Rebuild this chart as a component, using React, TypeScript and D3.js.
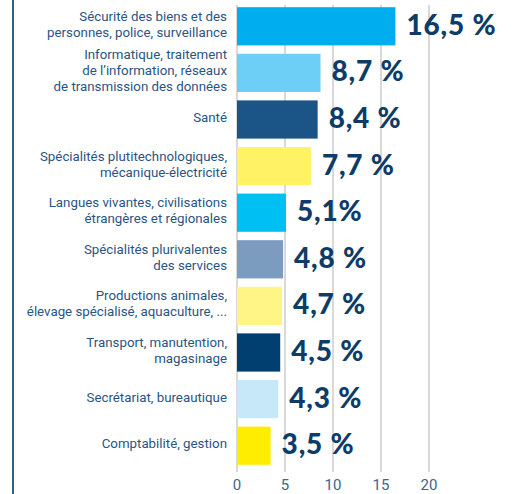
import React from "react";
import * as d3 from "d3";

const categories: string[] = [
  "Sécurité des biens et des\npersonnes, police, surveillance",
  "Informatique, traitement\nde l’information, réseaux\nde transmission des données",
  "Santé",
  "Spécialités plutitechnologiques,\nmécanique-électricité",
  "Langues vivantes, civilisations\nétrangères et régionales",
  "Spécialités plurivalentes\ndes services",
  "Productions animales,\nélevage spécialisé, aquaculture, ...",
  "Transport, manutention,\nmagasinage",
  "Secrétariat, bureautique",
  "Comptabilité, gestion",
];
const values: number[] = [16.5, 8.7, 8.4, 7.7, 5.1, 4.8, 4.7, 4.5, 4.3, 3.5];
const valueLabels: string[] = ["16,5 %", "8,7 %", "8,4 %", "7,7 %", "5,1%", "4,8 %", "4,7 %", "4,5 %", "4,3 %", "3,5 %"];
const barColors: string[] = [
  "#00aeef", "#6dcff6", "#1b5587", "#fff264", "#00bff3",
  "#7b9bbf", "#fff587", "#003f6f", "#c6e8f8", "#ffed00",
];
const ticks: number[] = [0, 5, 10, 15, 20];

export default function App() {
  const W = 519, H = 494;
  const x = d3.scaleLinear().domain([0, 20]).range([237, 429]);
  const y = d3.scaleBand<number>().domain(d3.range(categories.length)).range([3, 469]).paddingInner(0.18).paddingOuter(0.09);
  const labelColor = "#2a5583";
  const valueColor = "#0e3c68";
  const lh = 16;
  return (
    <svg width={W} height={H} style={{ position: "absolute", left: 0, top: 0, background: "#fff" }}>
      <line x1={13} x2={13} y1={0} y2={H} stroke="#2f5f8f" strokeWidth={2} />
      {ticks.map((t) => (
        <g key={t}>
          <line x1={x(t)} x2={x(t)} y1={5} y2={472} stroke="#d9d9d9" strokeWidth={2} />
          <text x={x(t)} y={490} textAnchor="middle" fontFamily="Roboto, sans-serif" fontSize={15} fill="#3a6690">{t}</text>
        </g>
      ))}
      {values.map((v, i) => {
        const y0 = y(i)!;
        const bw = y.bandwidth();
        const cy = y0 + bw / 2;
        const lines = categories[i].split("\n");
        const startY = cy - 2 - ((lines.length - 1) * lh) / 2 + 4.5;
        return (
          <g key={i}>
            <rect x={x(0)} y={y0} width={x(v) - x(0)} height={bw} fill={barColors[i]} />
            <text textAnchor="end" fontFamily="Roboto, sans-serif" fontSize={13.3} fill={labelColor}>
              {lines.map((l, j) => (
                <tspan key={j} x={227} y={startY + j * lh}>{l}</tspan>
              ))}
            </text>
            <text x={x(v) + 11} y={cy + 8.5} fontFamily="Lato, sans-serif" fontWeight={900} fontSize={28} letterSpacing={0.8} fill={valueColor}>
              {valueLabels[i]}
            </text>
          </g>
        );
      })}
    </svg>
  );
}
